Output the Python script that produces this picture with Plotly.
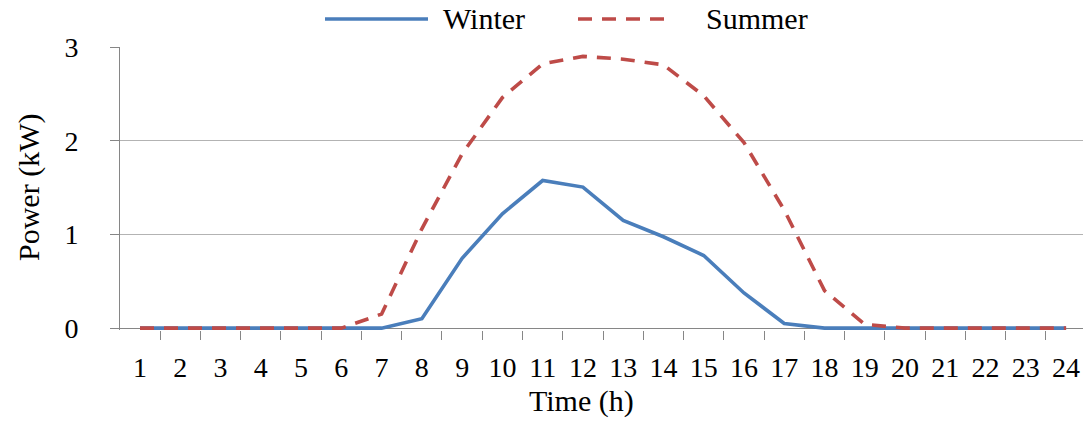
import plotly.graph_objects as go

# Hourly PV output profile (kW) for a winter and a summer day
hours = list(range(1, 25))
winter = [0, 0, 0, 0, 0, 0, 0, 0.10, 0.745, 1.22, 1.575, 1.505, 1.15, 0.975,
          0.775, 0.375, 0.05, 0, 0, 0, 0, 0, 0, 0]
summer = [0, 0, 0, 0, 0, 0, 0.15, 1.06, 1.86, 2.46, 2.82, 2.90, 2.87, 2.81,
          2.48, 1.98, 1.26, 0.40, 0.04, 0, 0, 0, 0, 0]
y_ticks = [0, 1, 2, 3]

BLUE = "#4A7EBB"
RED = "#BE4B48"
GRID = "#B3B3B3"
AXIS = "#868686"
FONT = "Liberation Serif, Times New Roman, serif"
TITLE_SIZE = 30
TICK_SIZE = 28

W, H = 1083, 423
L, R, T, B = 120, 0, 47, 93
plot_w = W - L - R
plot_h = H - T - B


def px_x(px):
    return (px - L) / plot_w


def px_y(py):
    return (H - B - py) / plot_h


fig = go.Figure()
fig.add_trace(go.Scatter(x=hours, y=winter, mode="lines", name="Winter",
                         line=dict(color=BLUE, width=3.6), showlegend=False))
fig.add_trace(go.Scatter(x=hours, y=summer, mode="lines", name="Summer",
                         line=dict(color=RED, width=3.6, dash="14px,10px"),
                         showlegend=False))

# Legend drawn across the top: long line samples with labels
legend_items = [("Winter", BLUE, "solid", 325, 428, 441),
                ("Summer", RED, "14px,10px", 578, 672, 704)]
for label, color, dash, x0, x1, xt in legend_items:
    fig.add_shape(type="line", xref="paper", yref="paper",
                  x0=px_x(x0), x1=px_x(x1), y0=px_y(19), y1=px_y(19),
                  line=dict(color=color, width=3.6, dash=dash))
    fig.add_annotation(text=label, xref="paper", yref="paper",
                       x=px_x(xt), y=px_y(19), xanchor="left", yanchor="middle",
                       showarrow=False,
                       font=dict(family=FONT, size=TITLE_SIZE, color="black"))

# Axis titles
fig.add_annotation(text="Time (h)", xref="paper", yref="paper",
                   x=px_x(581), y=px_y(401), xanchor="center", yanchor="middle",
                   showarrow=False,
                   font=dict(family=FONT, size=TITLE_SIZE, color="black"))
fig.add_annotation(text="Power (kW)", xref="paper", yref="paper",
                   x=px_x(29), y=px_y(188), xanchor="center", yanchor="middle",
                   textangle=-90, showarrow=False,
                   font=dict(family=FONT, size=TITLE_SIZE, color="black"))

fig.update_layout(
    width=W, height=H,
    margin=dict(l=L, r=R, t=T, b=B, pad=0),
    paper_bgcolor="white", plot_bgcolor="white",
    font=dict(family=FONT, size=TICK_SIZE, color="black"),
    showlegend=False,
)
fig.update_xaxes(
    range=[0.503, 24.42],
    tickmode="array", tickvals=hours, ticktext=[str(h) for h in hours],
    ticks="", showgrid=False, zeroline=False, showline=False,
    minor=dict(tick0=0.5, dtick=1, ticks="outside", ticklen=9,
               tickcolor=AXIS, tickwidth=1, showgrid=False),
    ticklabelstandoff=18,
    tickfont=dict(family=FONT, size=TICK_SIZE, color="black"),
)
fig.update_yaxes(
    range=[-0.02, 3.0],
    tickmode="array", tickvals=y_ticks, ticktext=[str(v) for v in y_ticks],
    ticks="outside", ticklen=9, tickcolor=AXIS, tickwidth=1,
    showgrid=True, gridcolor=GRID, gridwidth=1,
    zeroline=True, zerolinecolor=AXIS, zerolinewidth=1,
    showline=True, linecolor=AXIS, linewidth=1,
    ticklabelstandoff=26,
    tickfont=dict(family=FONT, size=TICK_SIZE, color="black"),
)

fig.write_html("out.html")
